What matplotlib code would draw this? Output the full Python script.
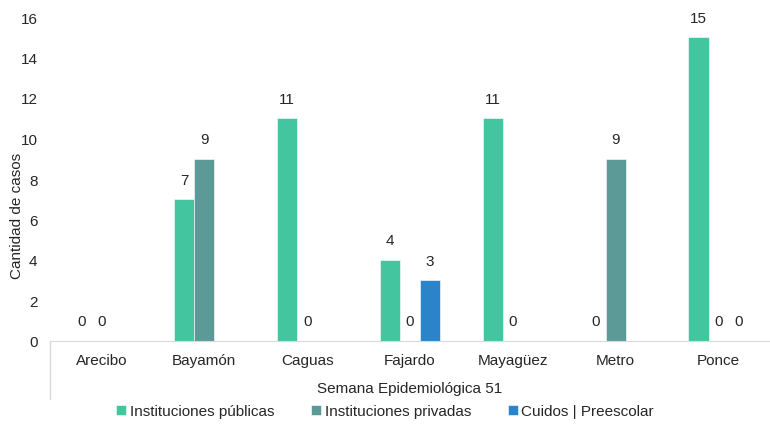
import numpy as np
import matplotlib.pyplot as plt
from matplotlib.lines import Line2D

plt.rcParams['font.family'] = ['Liberation Sans', 'DejaVu Sans']

regiones = ["Arecibo", "Bayamón", "Caguas", "Fajardo", "Mayagüez", "Metro", "Ponce"]
publicas = [0, 7, 11, 4, 11, 0, 15]
privadas = [0, 9, 0, 0, 0, 9, 0]
cuidos = [None, None, None, 3, None, None, 0]
series_names = ["Instituciones públicas", "Instituciones privadas", "Cuidos | Preescolar"]
colores = ["#43C6A0", "#5B9A97", "#2B84C9"]
semana = "Semana Epidemiológica 51"

fs = 11
fig = plt.figure(figsize=(7.7, 4.27), dpi=100)
ax = fig.add_axes([50/770, 85/427, 720/770, 324/427])

x = np.arange(len(regiones))
w = 0.195
for k, vals in enumerate([publicas, privadas, cuidos]):
    pos = x + (k - 1) * w
    v = np.array([np.nan if a is None else a for a in vals], dtype=float)
    ax.bar(pos, np.nan_to_num(v), width=w, color=colores[k], label=series_names[k],
           edgecolor="white", linewidth=0.4)
    for p, val in zip(pos, v):
        if not np.isnan(val):
            ax.annotate(f"{int(val)}", (p, val), xytext=(0, 9), textcoords="offset points",
                        ha="center", va="bottom", fontsize=fs, color="#262626")

ax.set_xlim(-0.5, len(regiones) - 0.5)
ax.set_ylim(0, 16)
ax.set_yticks(range(0, 17, 2))
ax.set_xticks(x)
ax.set_xticklabels(regiones)
ax.tick_params(axis="both", length=0, labelsize=fs, colors="#262626")
ax.tick_params(axis="x", pad=9)
ax.tick_params(axis="y", pad=9)
for s in ["top", "right", "left"]:
    ax.spines[s].set_visible(False)
ax.spines["bottom"].set_color("#D9D9D9")
fig.text(17/770, (427-216)/427, "Cantidad de casos", rotation=90, ha="center", va="center",
         fontsize=fs, color="#262626")

# second level of category axis
fig.add_artist(Line2D([50/770, 50/770], [(427-342)/427, (427-400)/427],
                      transform=fig.transFigure, color="#D9D9D9", lw=1))
fig.text(410/770, (427-389)/427, semana, ha="center", va="center", fontsize=fs, color="#262626")

fig.legend(loc="center", bbox_to_anchor=(385/770, (427-412)/427), ncol=3, frameon=False,
           fontsize=fs, handlelength=0.65, handleheight=0.65, handletextpad=0.25,
           columnspacing=2.4, labelcolor="#262626")

fig.savefig("out.png", dpi=100)
